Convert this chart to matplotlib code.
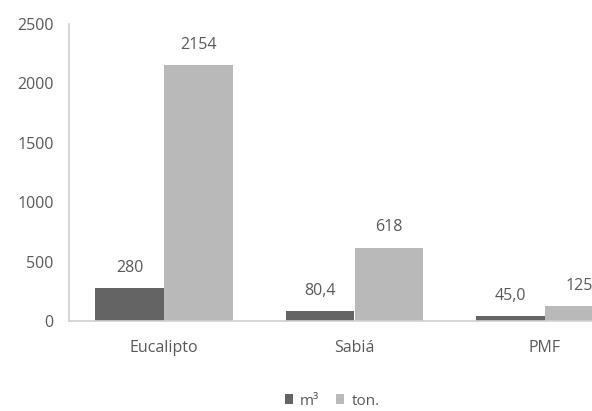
import matplotlib
matplotlib.use("Agg")
import matplotlib.pyplot as plt
import numpy as np

categories = ["Eucalipto", "Sabiá", "PMF"]
m3_values = [280, 80.4, 45.0]
ton_values = [2154, 618, 125]
m3_labels = ["280", "80,4", "45,0"]
ton_labels = ["2154", "618", "125"]
yticks = [0, 500, 1000, 1500, 2000, 2500]

plt.rcParams['font.family'] = ['Open Sans', 'DejaVu Sans']
txt = "#595959"

fig = plt.figure(figsize=(5.92, 4.11), dpi=100)
ax = fig.add_axes([69/592, 1-321/411, (640-69)/592, (321-24)/411])

x = np.arange(len(categories))
w = 0.362
b1 = ax.bar(x - w/2, m3_values, w, color="#646464", label="m³")
b2 = ax.bar(x + w/2, ton_values, w, color="#b9b9b9", label="ton.")

for rects, labs in ((b1, m3_labels), (b2, ton_labels)):
    for r, lab in zip(rects, labs):
        ax.annotate(lab, (r.get_x() + r.get_width()/2, r.get_height()),
                    xytext=(0, 14.5), textcoords="offset points",
                    ha="center", va="center", fontsize=11.5, color=txt)

ax.set_xlim(-0.5, 2.5)
ax.set_ylim(0, 2500)
ax.set_yticks(yticks)
ax.set_yticklabels([str(t) for t in yticks])
ax.set_xticks(x)
ax.set_xticklabels(categories)
ax.tick_params(axis="both", length=0, labelsize=11.5, colors=txt)
ax.tick_params(axis="y", pad=11)
ax.tick_params(axis="x", pad=14)
for s in ("top", "right"):
    ax.spines[s].set_visible(False)
for s in ("left", "bottom"):
    ax.spines[s].set_color("#d0d0d0")
    ax.spines[s].set_linewidth(1.2)

fig.legend(handles=[b1, b2], labels=["m³", "ton."], loc="center",
           bbox_to_anchor=(332/592, 1-401/411), ncol=2, frameon=False,
           fontsize=11, handlelength=0.55, handleheight=0.55,
           handletextpad=0.45, columnspacing=1.1, labelcolor=txt)

fig.savefig("out.png", dpi=100)
